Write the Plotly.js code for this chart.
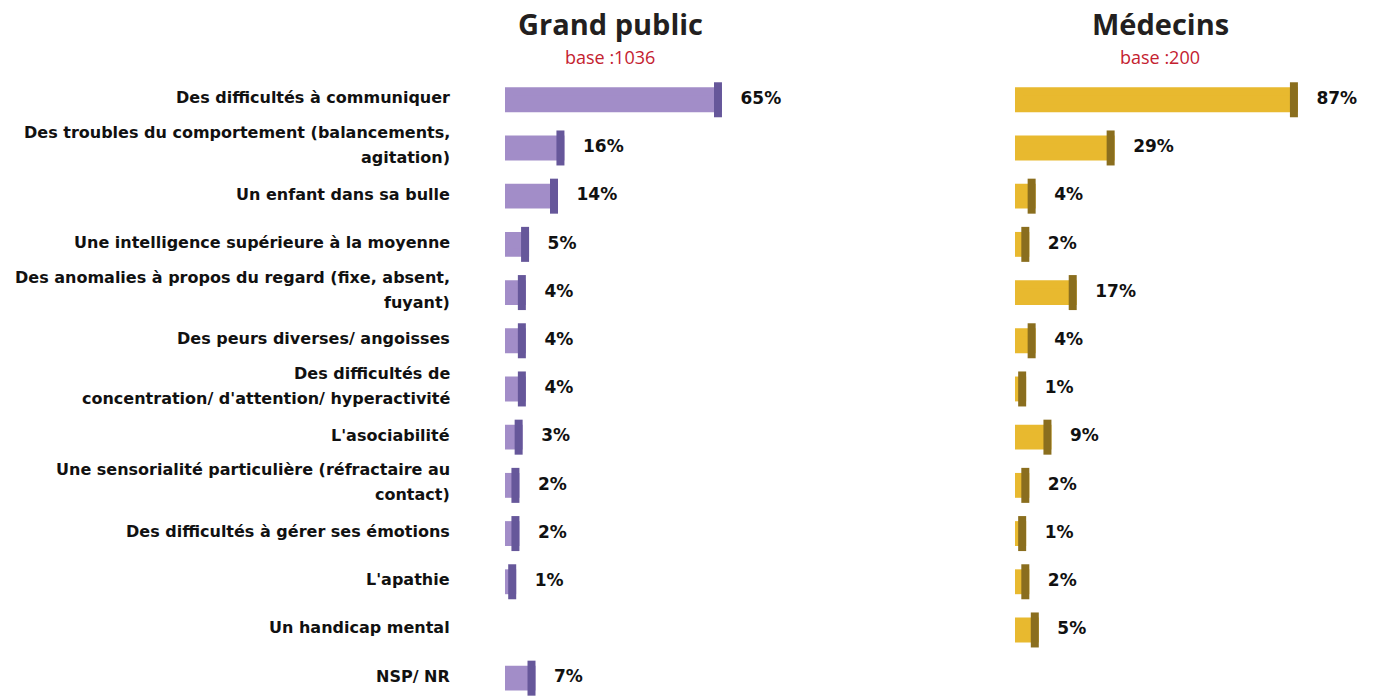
<!DOCTYPE html>
<html>
<head>
<meta charset="utf-8">
<script src="https://cdn.plot.ly/plotly-3.0.1.min.js"></script>
<style>html,body{margin:0;padding:0;background:#fff;}#chart{width:1373px;height:696px;}</style>
</head>
<body>
<div id="chart"></div>
<script>
const categories = [
  "Des difficultés à communiquer",
  "Des troubles du comportement (balancements,\nagitation)",
  "Un enfant dans sa bulle",
  "Une intelligence supérieure à la moyenne",
  "Des anomalies à propos du regard (fixe, absent,\nfuyant)",
  "Des peurs diverses/ angoisses",
  "Des difficultés de\nconcentration/ d'attention/ hyperactivité",
  "L'asociabilité",
  "Une sensorialité particulière (réfractaire au\ncontact)",
  "Des difficultés à gérer ses émotions",
  "L'apathie",
  "Un handicap mental",
  "NSP/ NR"
];
const grandPublic = [65, 16, 14, 5, 4, 4, 4, 3, 2, 2, 1, null, 7];
const medecins    = [87, 29, 4, 2, 17, 4, 1, 9, 2, 1, 2, 5, null];
const panelTitles = ["Grand public", "Médecins"];
const panelBases  = ["base :1036", "base :200"];

const W = 1373, H = 696;
const pct = v => (v === null ? "" : "\u00a0" + v + "%");

const purple = "#a28dc8", purpleDark = "#66579a";
const gold = "#e8b92f", goldDark = "#8a6e1e";
const labelFont = {family: "DejaVu Sans", size: 16, color: "#111", weight: "bold"};
const valFont = {family: "DejaVu Sans", size: 17, color: "#111", weight: "bold"};

function barTrace(vals, color, xa) {
  return {type: "bar", orientation: "h", x: vals, y: categories, xaxis: xa, yaxis: "y",
    width: 0.35, cliponaxis: false, marker: {color: color, line: {width: 8, color: color}}, hoverinfo: "skip"};
}
function capTrace(vals, color, xa) {
  return {type: "scatter", mode: "markers+text", x: vals, y: categories, xaxis: xa, yaxis: "y",
    marker: {symbol: "line-ns", size: 25, line: {width: 8, color: color}},
    text: vals.map(pct), textposition: "middle right", textfont: valFont,
    cliponaxis: false, hoverinfo: "skip"};
}

const data = [
  barTrace(grandPublic, purple, "x"),
  capTrace(grandPublic, purpleDark, "x"),
  barTrace(medecins, gold, "x2"),
  capTrace(medecins, goldDark, "x2")
];

const annotations = [];
categories.forEach(c => {
  const lines = c.split("\n");
  const n = lines.length;
  lines.forEach((ln, j) => {
    annotations.push({xref: "paper", yref: "y", x: 452 / W, y: c, xanchor: "right", yanchor: "middle",
      text: ln, showarrow: false, font: labelFont,
      yshift: -((j - (n - 1) / 2) * 25) + (n > 1 ? 3 : 2)});
  });
});
const centers = [610 / W, 1160 / W];
panelTitles.forEach((t, i) => {
  annotations.push({xref: "paper", yref: "paper", x: centers[i], y: 1 - 44 / H, xanchor: "center", yanchor: "bottom",
    text: "<b>" + t + "</b>", showarrow: false, borderpad: 0, font: {family: "Open Sans", size: 29, color: "#231f20"}});
  annotations.push({xref: "paper", yref: "paper", x: centers[i], y: 1 - 44 / H, xanchor: "center", yanchor: "top",
    text: panelBases[i], showarrow: false, borderpad: 0, font: {family: "Open Sans", size: 18, color: "#c4212f"}});
});

const axisCommon = {showgrid: false, zeroline: false, showline: false,
  showticklabels: false, ticks: "", fixedrange: true};
const layout = {
  width: W, height: H, margin: {l: 0, r: 0, t: 0, b: 0},
  paper_bgcolor: "#fff", plot_bgcolor: "#fff", showlegend: false, bargap: 0,
  xaxis: Object.assign({domain: [505 / W, 830.5 / W], range: [-1.244, 100], anchor: "y"}, axisCommon),
  xaxis2: Object.assign({domain: [1015 / W, 1335 / W], range: [-1.266, 100], anchor: "y"}, axisCommon),
  yaxis: {type: "category", range: [12.37, -2.07], showgrid: false, zeroline: false, showline: false,
    showticklabels: false, ticks: "", fixedrange: true},
  annotations: annotations
};
Plotly.newPlot("chart", data, layout, {displayModeBar: false, staticPlot: true});
</script>
</body>
</html>
